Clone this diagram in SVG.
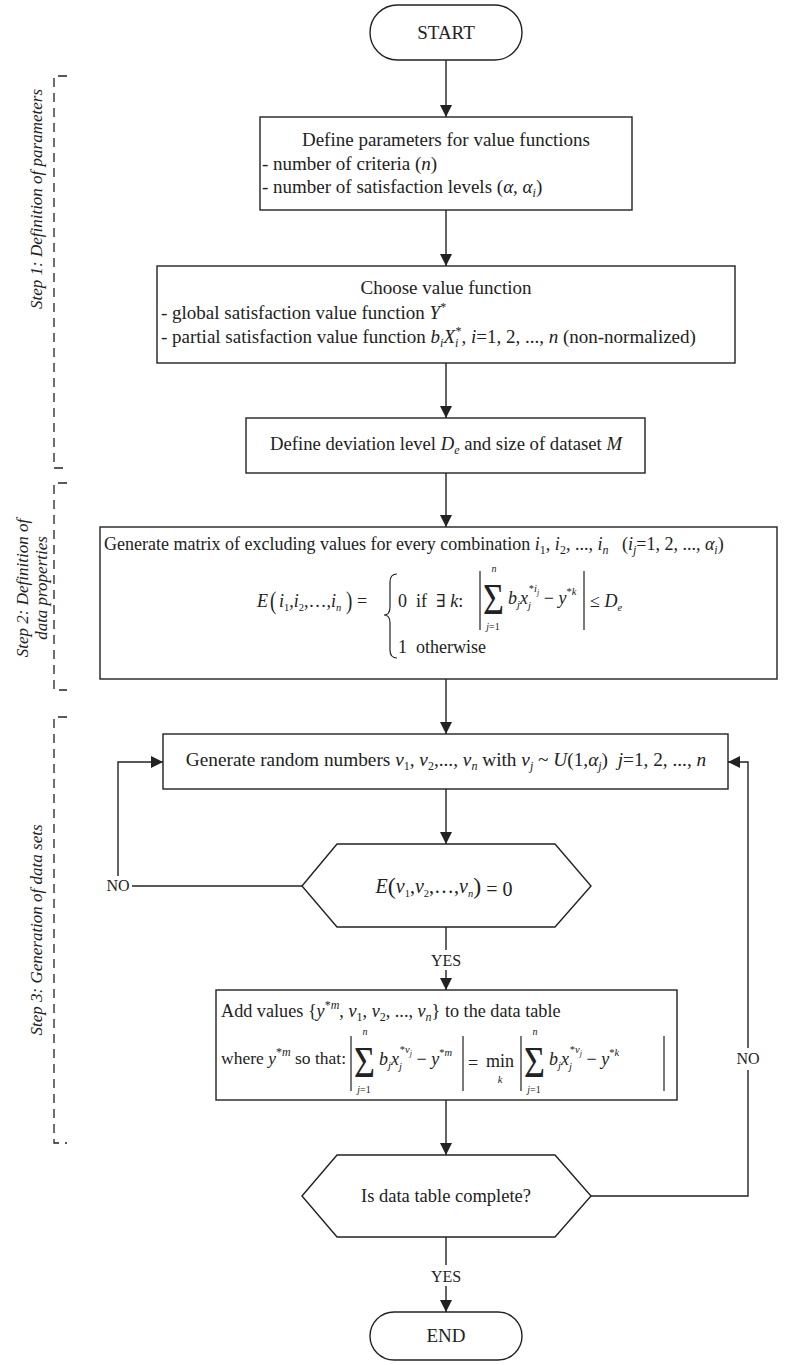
<svg xmlns="http://www.w3.org/2000/svg" width="790" height="1365" viewBox="0 0 790 1365" font-family="'Liberation Serif', 'Times New Roman', 'DejaVu Serif', serif" font-size="18.5">
<style>
text{font-family:'Liberation Serif','Times New Roman','DejaVu Serif',serif;fill:#222}
.c{text-anchor:middle}
.i{font-style:italic}
.s{font-size:12px}
.xs{font-size:10.5px}
.box{fill:#fff;stroke:#222;stroke-width:1.4}
.ln{fill:none;stroke:#222;stroke-width:1.4}
.bar{fill:none;stroke:#222;stroke-width:1.2}
.dash{fill:none;stroke:#222;stroke-width:1.3;stroke-dasharray:9,6}
.lab{font-size:17px;font-style:italic;text-anchor:middle}
</style>
<defs>
<marker id="ah" viewBox="0 0 12 12" markerWidth="12" markerHeight="12" refX="12" refY="6" orient="auto" markerUnits="userSpaceOnUse"><path d="M0,0 L12,6 L0,12 z" fill="#222"/></marker>
</defs>
<rect width="790" height="1365" fill="#fff"/>

<g id="brackets">
<path class="dash" d="M67,76 H54 V468 H67"/>
<path class="dash" d="M67,483 H54 V690 H67"/>
<path class="dash" d="M67,717 H54 V1143 H67"/>
<text class="lab" transform="translate(42,199) rotate(-90)">Step 1: Definition of parameters</text>
<text class="lab" transform="translate(28,588) rotate(-90)">Step 2: Definition of</text>
<text class="lab" transform="translate(47,588) rotate(-90)">data properties</text>
<text class="lab" transform="translate(42,930) rotate(-90)">Step 3: Generation of data sets</text>
</g>

<g id="connectors">
<path class="ln" d="M446,60 V117" marker-end="url(#ah)"/>
<path class="ln" d="M446,210 V266" marker-end="url(#ah)"/>
<path class="ln" d="M446,363 V418" marker-end="url(#ah)"/>
<path class="ln" d="M446,473 V527" marker-end="url(#ah)"/>
<path class="ln" d="M446,679 V734" marker-end="url(#ah)"/>
<path class="ln" d="M446,789 V844" marker-end="url(#ah)"/>
<path class="ln" d="M446,927 V950"/>
<path class="ln" d="M446,970 V990" marker-end="url(#ah)"/>
<path class="ln" d="M446,1100 V1155" marker-end="url(#ah)"/>
<path class="ln" d="M446,1237 V1265"/>
<path class="ln" d="M446,1286 V1312" marker-end="url(#ah)"/>
<path class="ln" d="M302,886 H132"/>
<path class="ln" d="M118,876 V762 H163" marker-end="url(#ah)"/>
<path class="ln" d="M591,1196 H748 V1070"/>
<path class="ln" d="M748,1048 V762 H728" marker-end="url(#ah)"/>
<text class="c" x="446" y="966" font-size="16">YES</text>
<text class="c" x="446" y="1282" font-size="16">YES</text>
<text class="c" x="118" y="891" font-size="16">NO</text>
<text class="c" x="748" y="1064" font-size="16">NO</text>
</g>

<g id="start">
<rect class="box" x="370" y="5" width="152" height="55" rx="27.5"/>
<text class="c" x="446" y="39" font-size="19">START</text>
</g>

<g id="define-params">
<rect class="box" x="260" y="117" width="372" height="93"/>
<text class="c" x="446" y="146" font-size="19">Define parameters for value functions</text>
<text x="262" y="170" font-size="19">- number of criteria (<tspan class="i">n</tspan>)</text>
<text x="262" y="193" font-size="19">- number of satisfaction levels (<tspan class="i">α</tspan>, <tspan class="i">α</tspan><tspan class="s i" dy="4">i</tspan><tspan dy="-4">)</tspan></text>
</g>

<g id="choose-function">
<rect class="box" x="157" y="266" width="578" height="97"/>
<text class="c" x="446" y="294" font-size="19">Choose value function</text>
<text x="161" y="319" font-size="19">- global satisfaction value function <tspan class="i">Y</tspan><tspan class="s" dy="-8">*</tspan></text>
<text x="161" y="343" font-size="19">- partial satisfaction value function <tspan class="i">b</tspan><tspan class="s i" dy="4">i</tspan><tspan class="i" dy="-4">X</tspan><tspan class="s i" dy="4">i</tspan><tspan class="s" dx="-3" dy="-12">*</tspan><tspan dy="8">, </tspan><tspan class="i">i</tspan>=1, 2, ..., <tspan class="i">n</tspan> (non-normalized)</text>
</g>

<g id="define-deviation">
<rect class="box" x="246" y="418" width="399" height="55"/>
<text class="c" x="446" y="450" font-size="18.7">Define deviation level <tspan class="i">D</tspan><tspan class="s i" dy="4">e</tspan><tspan dy="-4"> and size of dataset </tspan><tspan class="i">M</tspan></text>
</g>

<g id="excluding-matrix">
<rect class="box" x="100" y="527" width="677" height="152"/>
<text x="104" y="550" font-size="18" xml:space="preserve">Generate matrix of excluding values for every combination <tspan class="i">i</tspan><tspan class="s" dy="4">1</tspan><tspan dy="-4">, </tspan><tspan class="i">i</tspan><tspan class="s" dy="4">2</tspan><tspan dy="-4">, ..., </tspan><tspan class="i">i</tspan><tspan class="s i" dy="4">n</tspan><tspan dy="-4">   (</tspan><tspan class="i">i</tspan><tspan class="s i" dy="4">j</tspan><tspan dy="-4">=1, 2, ..., </tspan><tspan class="i">α</tspan><tspan class="s i" dy="4">i</tspan><tspan dy="-4">)</tspan></text>
<text class="i" x="257" y="607" font-size="18">E</text>
<text transform="translate(270,609) scale(1,1.3)" font-size="19">(</text>
<text x="279" y="607" font-size="18"><tspan class="i">i</tspan><tspan class="xs" dy="4">1</tspan><tspan dy="-4">,</tspan><tspan class="i">i</tspan><tspan class="xs" dy="4">2</tspan><tspan dy="-4">,…,</tspan><tspan class="i">i</tspan><tspan class="xs i" dy="4">n</tspan></text>
<text transform="translate(346,609) scale(1,1.3)" font-size="19">)</text>
<text x="357" y="607" font-size="18">=</text>
<path class="bar" d="M397,574 Q390,574 390,582 V607 Q390,615 384,615 Q390,615 390,623 V650 Q390,658 397,658"/>
<text x="398" y="607" font-size="18" xml:space="preserve">0  if  ∃ <tspan class="i">k</tspan>:</text>
<path class="bar" d="M480,571 V630 M584,571 V630"/>
<text transform="translate(483,614) scale(1,1.25)" font-size="36">Σ</text>
<text class="i c" x="494" y="572" font-size="10">n</text>
<text class="c" x="493" y="630" font-size="10"><tspan class="i">j</tspan>=1</text>
<text x="508" y="604" font-size="18"><tspan class="i">b</tspan><tspan class="xs i" dy="4">j</tspan><tspan class="i" dy="-4">x</tspan><tspan class="xs i" dy="5">j</tspan><tspan class="xs" dx="-2" dy="-17">*</tspan><tspan class="xs i">i</tspan><tspan class="i" font-size="8" dy="3">j</tspan><tspan dy="9" xml:space="preserve"> − </tspan><tspan class="i">y</tspan><tspan class="xs" dy="-9">*</tspan><tspan class="xs i">k</tspan></text>
<text x="590" y="607" font-size="18">≤ <tspan class="i">D</tspan><tspan class="xs i" dy="4">e</tspan></text>
<text x="398" y="653" font-size="18" xml:space="preserve">1  otherwise</text>
</g>

<g id="random-numbers">
<rect class="box" x="163" y="734" width="565" height="55"/>
<text class="c" x="446" y="766" font-size="19.3" xml:space="preserve">Generate random numbers <tspan class="i">v</tspan><tspan class="s" dy="4">1</tspan><tspan dy="-4">, </tspan><tspan class="i">v</tspan><tspan class="s" dy="4">2</tspan><tspan dy="-4">,..., </tspan><tspan class="i">v</tspan><tspan class="s i" dy="4">n</tspan><tspan dy="-4"> with </tspan><tspan class="i">v</tspan><tspan class="s i" dy="4">j</tspan><tspan dy="-4"> ~ </tspan><tspan class="i">U</tspan><tspan>(1,</tspan><tspan class="i">α</tspan><tspan class="s i" dy="4">j</tspan><tspan dy="-4">)  </tspan><tspan class="i">j</tspan>=1, 2, ..., <tspan class="i">n</tspan></text>
</g>

<g id="check-excluded">
<polygon class="box" points="302,886 337,844 555,844 591,886 555,927 337,927"/>
<text class="c" x="444" y="893" font-size="20"><tspan class="i">E</tspan><tspan font-size="24" dy="1">(</tspan><tspan class="i" dy="-1">v</tspan><tspan class="xs" dy="4">1</tspan><tspan dy="-4">,</tspan><tspan class="i">v</tspan><tspan class="xs" dy="4">2</tspan><tspan dy="-4">,…,</tspan><tspan class="i">v</tspan><tspan class="xs i" dy="4">n</tspan><tspan font-size="24" dy="-3">)</tspan><tspan dy="2" xml:space="preserve"> = 0</tspan></text>
</g>

<g id="add-values">
<rect class="box" x="216" y="990" width="461" height="110"/>
<text x="221" y="1017" font-size="18.2" xml:space="preserve">Add values {<tspan class="i">y</tspan><tspan class="s" dy="-8">*</tspan><tspan class="s i">m</tspan><tspan dy="8">, </tspan><tspan class="i">v</tspan><tspan class="s" dy="4">1</tspan><tspan dy="-4">, </tspan><tspan class="i">v</tspan><tspan class="s" dy="4">2</tspan><tspan dy="-4">, ..., </tspan><tspan class="i">v</tspan><tspan class="s i" dy="4">n</tspan><tspan dy="-4">} to the data table</tspan></text>
<text x="221" y="1064" font-size="17.5" xml:space="preserve">where <tspan class="i">y</tspan><tspan class="s" dy="-8">*</tspan><tspan class="s i">m</tspan><tspan dy="8"> so that:</tspan></text>
<path class="bar" d="M351,1036 V1091 M463,1036 V1091 M521,1036 V1091 M664,1036 V1091"/>
<text transform="translate(354,1077) scale(1,1.25)" font-size="36">Σ</text>
<text class="i c" x="365" y="1035" font-size="10">n</text>
<text class="c" x="364" y="1093" font-size="10"><tspan class="i">j</tspan>=1</text>
<text x="379" y="1065" font-size="18"><tspan class="i">b</tspan><tspan class="xs i" dy="4">j</tspan><tspan class="i" dy="-4">x</tspan><tspan class="xs i" dy="5">j</tspan><tspan class="xs" dx="-2" dy="-17">*</tspan><tspan class="xs i">v</tspan><tspan class="i" font-size="8" dy="3">j</tspan><tspan dy="9" xml:space="preserve"> − </tspan><tspan class="i">y</tspan><tspan class="xs" dy="-9">*</tspan><tspan class="xs i">m</tspan></text>
<text x="468" y="1069" font-size="18">=</text>
<text x="486" y="1067" font-size="18">min</text>
<text class="i c" x="500" y="1083" font-size="10.5">k</text>
<text transform="translate(524,1077) scale(1,1.25)" font-size="36">Σ</text>
<text class="i c" x="535" y="1035" font-size="10">n</text>
<text class="c" x="534" y="1093" font-size="10"><tspan class="i">j</tspan>=1</text>
<text x="549" y="1065" font-size="18"><tspan class="i">b</tspan><tspan class="xs i" dy="4">j</tspan><tspan class="i" dy="-4">x</tspan><tspan class="xs i" dy="5">j</tspan><tspan class="xs" dx="-2" dy="-17">*</tspan><tspan class="xs i">v</tspan><tspan class="i" font-size="8" dy="3">j</tspan><tspan dy="9" xml:space="preserve"> − </tspan><tspan class="i">y</tspan><tspan class="xs" dy="-9">*</tspan><tspan class="xs i">k</tspan></text>
</g>

<g id="table-complete">
<polygon class="box" points="302,1196 337,1155 555,1155 591,1196 555,1237 337,1237"/>
<text class="c" x="446" y="1202" font-size="18.5">Is data table complete?</text>
</g>

<g id="end">
<rect class="box" x="370" y="1312" width="152" height="48" rx="24"/>
<text class="c" x="446" y="1342" font-size="19">END</text>
</g>
</svg>
